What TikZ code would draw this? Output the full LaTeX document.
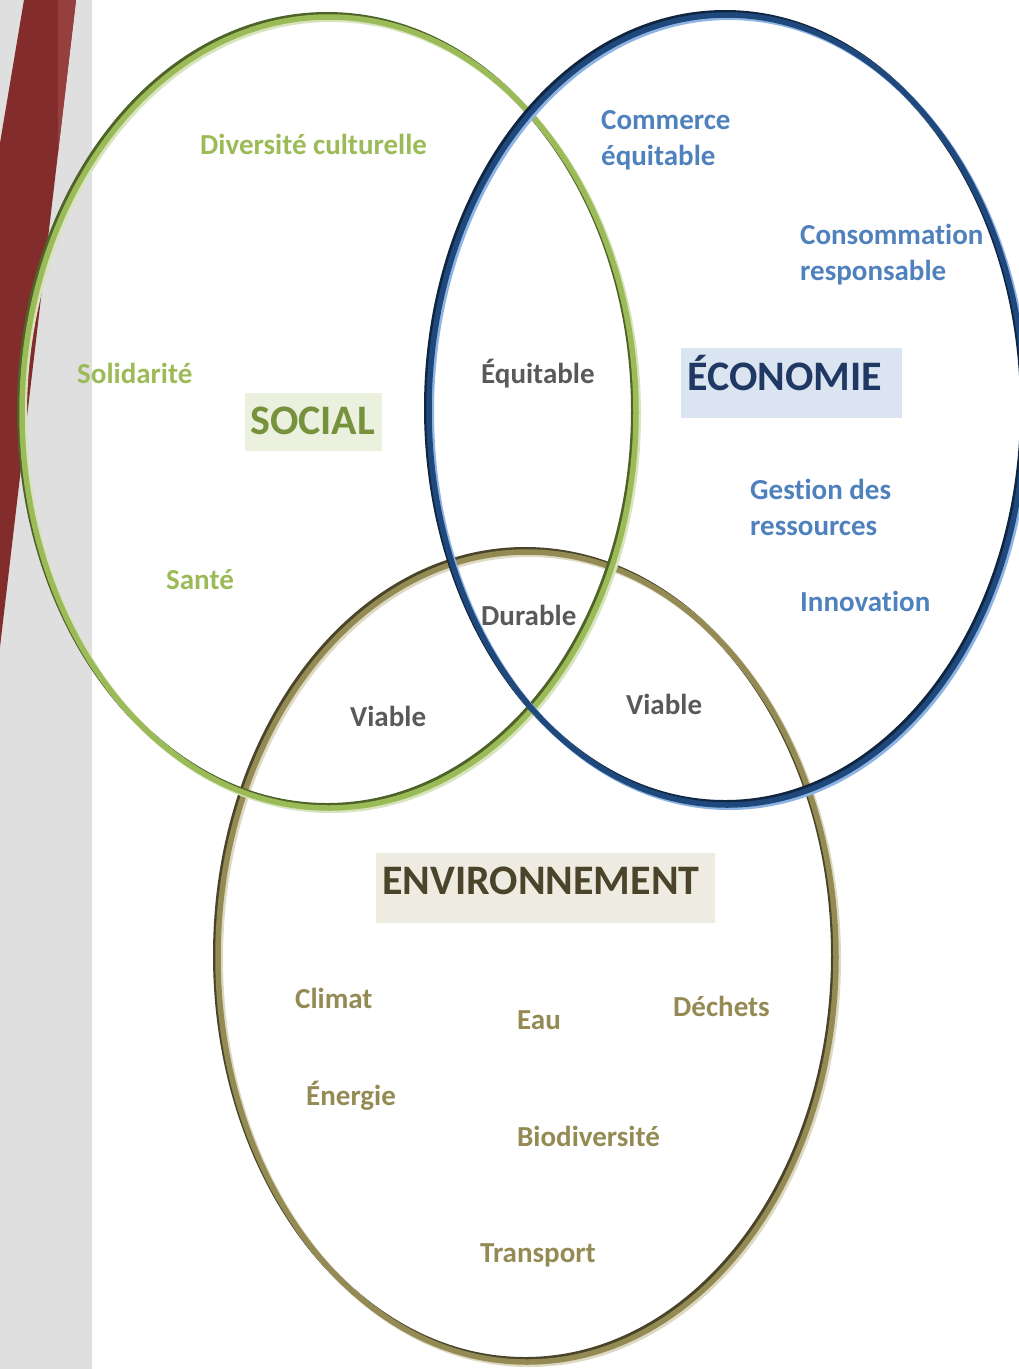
\documentclass[tikz,border=0pt]{standalone}
\usepackage{fontspec}
\setmainfont{Carlito}
\newfontfamily\calfont[Ligatures=NoCommon]{Carlito}
\usetikzlibrary{calc}
\definecolor{greydeco}{HTML}{DFDFDF}
\definecolor{reddark}{HTML}{822C2C}
\definecolor{redlight}{HTML}{963F3F}
\definecolor{gdark}{HTML}{4F6228}
\definecolor{gmid}{HTML}{9BBB59}
\definecolor{glight}{HTML}{D7E4BD}
\definecolor{bdark}{HTML}{10253F}
\definecolor{bmid}{HTML}{1F497D}
\definecolor{blight}{HTML}{8EB4E3}
\definecolor{edark}{HTML}{4A452A}
\definecolor{emid}{HTML}{948A54}
\definecolor{elight}{HTML}{DDD9C3}
\definecolor{soctxt}{HTML}{76923C}
\definecolor{socbg}{HTML}{EBF1DE}
\definecolor{ecotxt}{HTML}{1F3864}
\definecolor{ecobg}{HTML}{DBE5F1}
\definecolor{ecolbl}{HTML}{4F81BD}
\definecolor{envtxt}{HTML}{4A442A}
\definecolor{envbg}{HTML}{EEECE1}
\definecolor{midtxt}{HTML}{595959}
\tikzset{
  lbl/.style={inner sep=0pt, anchor=base west, align=left, font=\calfont\bfseries\fontsize{29}{36}\selectfont},
  ttl/.style={inner sep=0pt, anchor=base west, font=\calfont\bfseries\fontsize{42}{50}\selectfont},
  tbox/.style={inner sep=0pt, anchor=north west, draw=none},
}
\newcommand{\bevelring}[7]{%
  \draw[#5, line width=6pt] ($(#1,#2)+(-2,-2)$) ellipse [x radius=#3pt, y radius=#4pt];
  \draw[#7, line width=6pt] ($(#1,#2)+(2,2)$) ellipse [x radius=#3pt, y radius=#4pt];
  \draw[#6, line width=5.5pt] (#1,#2) ellipse [x radius=#3pt, y radius=#4pt];
}
\begin{document}
\begin{tikzpicture}[x=1pt,y=-1pt]
\useasboundingbox (0,0) rectangle (1019,1369);
\clip (0,0) rectangle (1019,1369);
\fill[white] (0,0) rectangle (1019,1369);
% left decoration
\fill[greydeco] (0,0) rectangle (92,1369);
\fill[reddark] (24,0) -- (76,0) -- (0,647) -- (0,143) -- cycle;
\fill[redlight] (58,0) -- (76,0) -- (58,153) -- cycle;
% title boxes
\node[tbox, fill=socbg, minimum width=137pt, minimum height=58pt] (socialbox) at (245,393) {};
\node[tbox, fill=ecobg, minimum width=221pt, minimum height=70pt] (ecobox) at (681,348) {};
\node[tbox, fill=envbg, minimum width=339pt, minimum height=70pt] (envbox) at (376,853) {};
% rings
\bevelring{527}{957}{309}{405}{edark}{emid}{elight}
\bevelring{329}{412.5}{307}{395.5}{gdark}{gmid}{glight}
\bevelring{727}{410}{298}{395}{bdark}{bmid}{blight}
% titles
\node[ttl, text=soctxt] (social) at (250,434) {SOCIAL};
\node[ttl, text=ecotxt] (economie) at (687,390) {ÉCONOMIE};
\node[ttl, text=envtxt] (environnement) at (382,894) {ENVIRONNEMENT};
% social labels
\node[lbl, text=gmid] (diversite) at (200,154) {Diversité culturelle};
\node[lbl, text=gmid] (solidarite) at (77,383) {Solidarité};
\node[lbl, text=gmid] (sante) at (166,589) {Santé};
% economy labels (base anchor = last line)
\node[lbl, text=ecolbl] (commerce) at (601,165) {Commerce\\équitable};
\node[lbl, text=ecolbl] (consommation) at (800,280) {Consommation\\responsable};
\node[lbl, text=ecolbl] (gestion) at (750,535) {Gestion des\\ressources};
\node[lbl, text=ecolbl] (innovation) at (800,611) {Innovation};
% intersection labels
\node[lbl, text=midtxt] (equitable) at (481,383) {Équitable};
\node[lbl, text=midtxt] (durable) at (481,625) {Durable};
\node[lbl, text=midtxt] (viableL) at (350,726) {Viable};
\node[lbl, text=midtxt] (viableR) at (626,714) {Viable};
% environment labels
\node[lbl, text=emid] (climat) at (295,1008) {Climat};
\node[lbl, text=emid] (eau) at (517,1029) {Eau};
\node[lbl, text=emid] (dechets) at (673,1016) {Déchets};
\node[lbl, text=emid] (energie) at (306,1105) {Énergie};
\node[lbl, text=emid] (biodiversite) at (517,1146) {Biodiversité};
\node[lbl, text=emid] (transport) at (480,1262) {Transport};
\end{tikzpicture}
\end{document}
